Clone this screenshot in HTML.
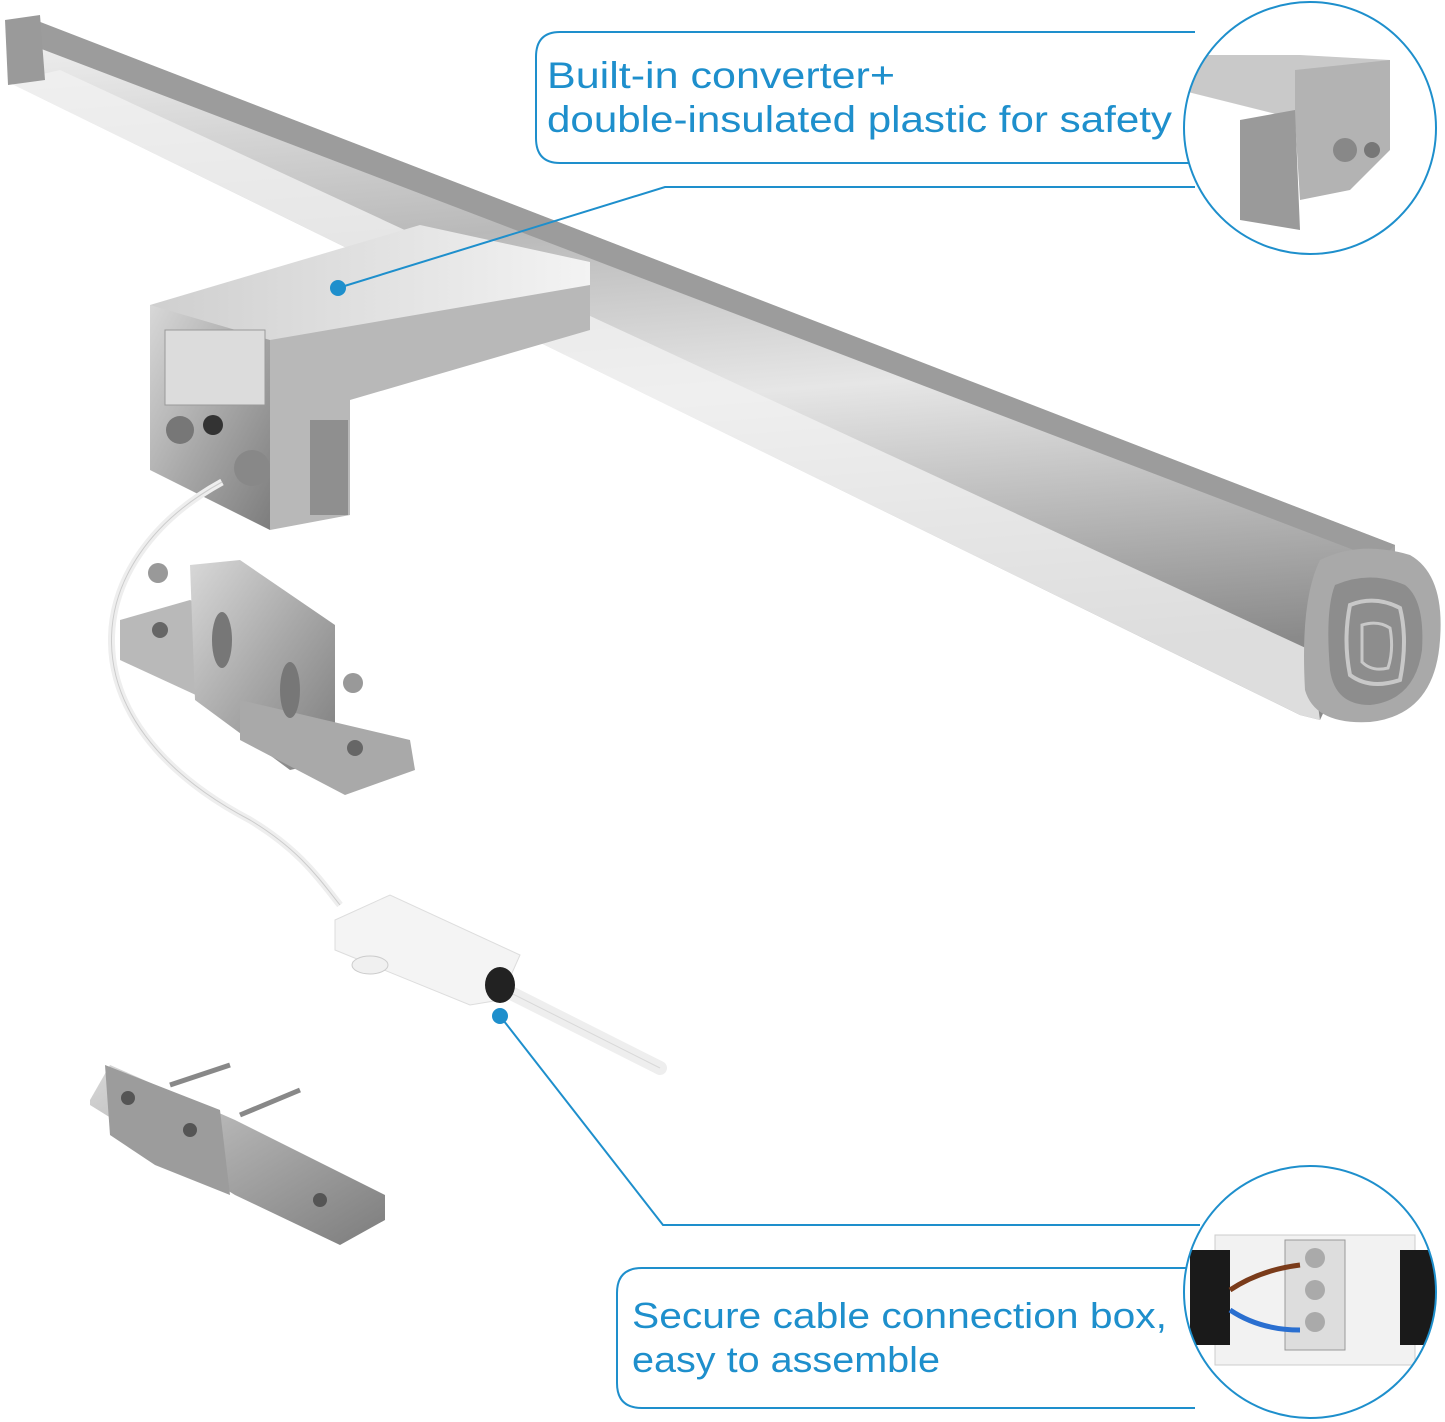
<!DOCTYPE html>
<html><head><meta charset="utf-8"><style>
html,body{margin:0;padding:0;background:#fff;}
svg{display:block}
text{font-family:"Liberation Sans",sans-serif;fill:#1e8fcc;}
</style></head><body>
<svg width="1445" height="1422" viewBox="0 0 1445 1422" xmlns="http://www.w3.org/2000/svg">
<defs>
<linearGradient id="bar" x1="0" y1="0" x2="0.15" y2="1">
<stop offset="0" stop-color="#f4f4f4"/><stop offset="0.35" stop-color="#b9b9b9"/><stop offset="0.6" stop-color="#e6e6e6"/><stop offset="1" stop-color="#8a8a8a"/></linearGradient>
<linearGradient id="met" x1="0" y1="0" x2="1" y2="1">
<stop offset="0" stop-color="#d8d8d8"/><stop offset="0.5" stop-color="#a9a9a9"/><stop offset="1" stop-color="#7d7d7d"/></linearGradient>
<linearGradient id="top" x1="0" y1="0" x2="1" y2="0">
<stop offset="0" stop-color="#cfcfcf"/><stop offset="1" stop-color="#f3f3f3"/></linearGradient>
<clipPath id="c1"><circle cx="1310" cy="128" r="126"/></clipPath>
<clipPath id="c2"><circle cx="1310" cy="1292" r="126"/></clipPath>
</defs>

<!-- main bar -->
<polygon points="10,22 30,18 1395,545 1395,560 1320,720 1300,715 8,82" fill="url(#bar)"/>
<polygon points="30,18 1395,545 1380,560 18,40" fill="#9c9c9c"/>
<polygon points="8,82 1300,715 1320,720 1310,650 60,70" fill="#f1f1f1" opacity="0.8"/>
<polygon points="5,20 40,15 45,80 8,85" fill="#9a9a9a"/>
<!-- end cap -->
<path d="M1320,560 Q1360,540 1410,555 Q1445,575 1440,640 Q1435,715 1370,722 Q1315,725 1305,690 Q1300,600 1320,560 Z" fill="#a9a9a9"/>
<path d="M1335,585 Q1370,570 1405,585 Q1425,600 1422,650 Q1415,700 1370,705 Q1335,705 1330,670 Q1325,610 1335,585 Z" fill="#8d8d8d"/>
<path d="M1350,605 Q1375,595 1400,608 Q1408,640 1400,680 Q1370,690 1350,675 Q1343,640 1350,605 Z" fill="none" stroke="#c8c8c8" stroke-width="4"/>
<path d="M1362,625 Q1378,620 1390,628 Q1394,650 1388,668 Q1372,672 1362,662 Z" fill="none" stroke="#c8c8c8" stroke-width="3"/>

<!-- bracket box -->
<polygon points="150,305 420,225 590,262 590,330 270,385 150,345" fill="url(#top)"/>
<polygon points="150,305 270,340 270,530 150,470" fill="url(#met)"/>
<polygon points="270,340 590,285 590,330 350,400 350,515 270,530" fill="#b8b8b8"/>
<rect x="165" y="330" width="100" height="75" fill="#dcdcdc" stroke="#9a9a9a"/>
<circle cx="180" cy="430" r="14" fill="#777"/><circle cx="213" cy="425" r="10" fill="#333"/><circle cx="252" cy="468" r="18" fill="#888"/>
<rect x="310" y="420" width="38" height="95" fill="#8f8f8f"/>

<!-- cable -->
<path d="M222,482 C80,560 60,720 250,820 C300,850 320,880 340,905" fill="none" stroke="#eee" stroke-width="7"/>
<path d="M222,482 C80,560 60,720 250,820 C300,850 320,880 340,905" fill="none" stroke="#ccc" stroke-width="1"/>
<path d="M505,990 L660,1068" stroke="#eee" stroke-width="14" stroke-linecap="round"/>
<path d="M505,990 L660,1068" stroke="#d8d8d8" stroke-width="1"/>
<!-- connection box -->
<polygon points="335,920 390,895 520,955 500,1000 470,1005 335,950" fill="#f4f4f4" stroke="#ddd"/>
<ellipse cx="500" cy="985" rx="15" ry="18" fill="#222"/>
<ellipse cx="370" cy="965" rx="18" ry="9" fill="#f0f0f0" stroke="#ccc"/>

<!-- mounting bracket 1 -->
<polygon points="120,620 190,600 330,660 330,700 250,720 120,660" fill="#b9b9b9"/>
<polygon points="190,565 240,560 335,625 335,760 290,770 195,700" fill="url(#met)"/>
<polygon points="240,700 410,740 415,770 345,795 240,740" fill="#a9a9a9"/>
<ellipse cx="222" cy="640" rx="10" ry="28" fill="#777"/><ellipse cx="290" cy="690" rx="10" ry="28" fill="#777"/>
<circle cx="158" cy="573" r="10" fill="#999"/><circle cx="353" cy="683" r="10" fill="#999"/>
<circle cx="160" cy="630" r="8" fill="#666"/><circle cx="355" cy="748" r="8" fill="#666"/>

<!-- mounting bracket 2 -->
<polygon points="90,1100 110,1065 235,1120 385,1195 385,1220 340,1245 235,1195 90,1105" fill="url(#met)"/>
<polygon points="105,1065 220,1110 230,1195 155,1165 110,1135" fill="#9c9c9c"/>
<circle cx="128" cy="1098" r="7" fill="#555"/><circle cx="190" cy="1130" r="7" fill="#555"/><circle cx="320" cy="1200" r="7" fill="#555"/>
<path d="M170,1085 L230,1065" stroke="#888" stroke-width="5"/><path d="M240,1115 L300,1090" stroke="#888" stroke-width="5"/>

<!-- callout 1 -->
<circle cx="338" cy="288" r="8" fill="#1e8fcc"/>
<polyline points="338,288 665,187 1195,187" fill="none" stroke="#1e8fcc" stroke-width="2"/>
<path d="M1195,32 L560,32 Q536,32 536,57 L536,138 Q536,163 560,163 L1195,163" fill="#fff" stroke="#1e8fcc" stroke-width="2"/>
<text x="547" y="88" font-size="37" textLength="348" lengthAdjust="spacingAndGlyphs">Built-in converter+</text>
<text x="547" y="132" font-size="37" textLength="625" lengthAdjust="spacingAndGlyphs">double-insulated plastic for safety</text>
<g clip-path="url(#c1)">
<rect x="1180" y="0" width="270" height="260" fill="#fff"/>
<polygon points="1180,55 1300,55 1390,60 1390,140 1300,120 1180,90" fill="#c9c9c9"/>
<polygon points="1295,70 1390,60 1390,150 1350,190 1300,200 1295,120" fill="#b3b3b3"/>
<polygon points="1240,120 1295,110 1300,230 1240,220" fill="#9a9a9a"/>
<circle cx="1345" cy="150" r="12" fill="#888"/><circle cx="1372" cy="150" r="8" fill="#777"/>
</g>
<circle cx="1310" cy="128" r="126" fill="none" stroke="#1e8fcc" stroke-width="2"/>

<!-- callout 2 -->
<circle cx="500" cy="1016" r="8" fill="#1e8fcc"/>
<polyline points="500,1016 663,1225 1200,1225" fill="none" stroke="#1e8fcc" stroke-width="2"/>
<path d="M1195,1268 L642,1268 Q617,1268 617,1293 L617,1383 Q617,1408 642,1408 L1195,1408" fill="#fff" stroke="#1e8fcc" stroke-width="2"/>
<text x="632" y="1328" font-size="36" textLength="535" lengthAdjust="spacingAndGlyphs">Secure cable connection box,</text>
<text x="632" y="1372" font-size="36" textLength="308" lengthAdjust="spacingAndGlyphs">easy to assemble</text>
<g clip-path="url(#c2)">
<rect x="1180" y="1165" width="270" height="260" fill="#fff"/>
<rect x="1215" y="1235" width="200" height="130" fill="#f2f2f2" stroke="#ccc"/>
<rect x="1190" y="1250" width="40" height="95" fill="#1a1a1a"/>
<rect x="1400" y="1250" width="35" height="95" fill="#1a1a1a"/>
<rect x="1285" y="1240" width="60" height="110" fill="#ddd" stroke="#999"/>
<circle cx="1315" cy="1258" r="10" fill="#aaa"/><circle cx="1315" cy="1290" r="10" fill="#aaa"/><circle cx="1315" cy="1322" r="10" fill="#aaa"/>
<path d="M1230,1290 Q1260,1270 1300,1265" stroke="#7a3b1a" stroke-width="5" fill="none"/>
<path d="M1230,1310 Q1260,1330 1300,1330" stroke="#2a6fd0" stroke-width="5" fill="none"/>
</g>
<circle cx="1310" cy="1292" r="126" fill="none" stroke="#1e8fcc" stroke-width="2"/>
</svg>
</body></html>
